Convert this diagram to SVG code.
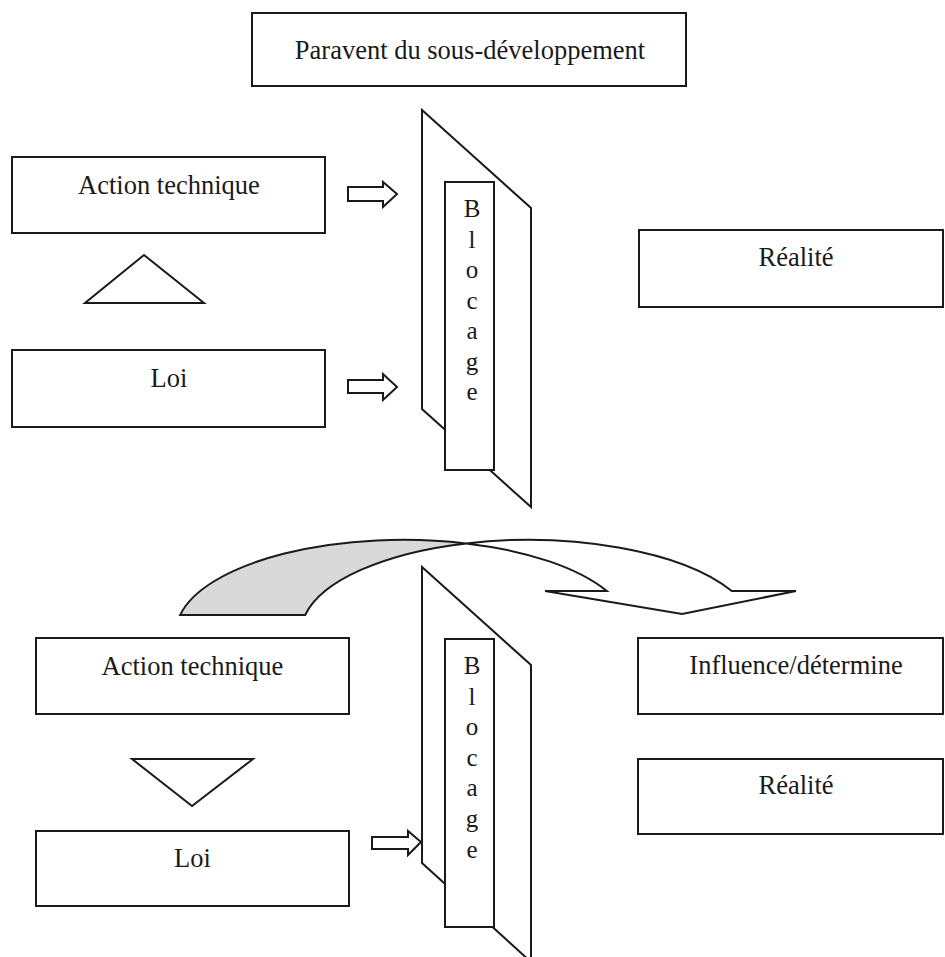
<svg xmlns="http://www.w3.org/2000/svg" width="945" height="957" viewBox="0 0 945 957">
<style>
.box{fill:#fff;stroke:#1a1a1a;stroke-width:2}
.ln{fill:#fff;stroke:#1a1a1a;stroke-width:2;stroke-linejoin:miter}
.t{font-family:"Liberation Serif","Times New Roman",serif;font-size:26.5px;fill:#1a1a1a;text-anchor:middle}
.v{font-family:"Liberation Serif","Times New Roman",serif;font-size:25px;fill:#1a1a1a;text-anchor:middle}
</style>
<rect width="945" height="957" fill="#fff"/>
<g id="title">
<rect class="box" x="252" y="13" width="434" height="73"/>
<text class="t" x="470" y="59">Paravent du sous-développement</text>
</g>
<g id="action-top">
<rect class="box" x="12" y="157" width="313" height="76"/>
<text class="t" x="169" y="194">Action technique</text>
</g>
<g id="loi-top">
<rect class="box" x="12" y="350" width="313" height="77"/>
<text class="t" x="169" y="387">Loi</text>
</g>
<g id="realite-top">
<rect class="box" x="639" y="230" width="304" height="77"/>
<text class="t" x="796" y="266">Réalité</text>
</g>
<g id="blocage-top">
<polygon class="ln" points="422,110 531,208 531,507 422,409"/>
<rect class="box" x="445" y="182" width="49" height="288"/>
<text class="v" x="472" y="217">B</text>
<text class="v" x="472" y="247.5">l</text>
<text class="v" x="472" y="278">o</text>
<text class="v" x="472" y="308.5">c</text>
<text class="v" x="472" y="339">a</text>
<text class="v" x="472" y="369.5">g</text>
<text class="v" x="472" y="400">e</text>
</g>
<g id="action-bottom">
<rect class="box" x="36" y="638" width="313" height="76"/>
<text class="t" x="192.5" y="675">Action technique</text>
</g>
<g id="loi-bottom">
<rect class="box" x="36" y="831" width="313" height="75"/>
<text class="t" x="192.5" y="867">Loi</text>
</g>
<g id="influence">
<rect class="box" x="638" y="638" width="305" height="76"/>
<text class="t" x="796" y="674">Influence/détermine</text>
</g>
<g id="realite-bottom">
<rect class="box" x="638" y="759" width="305" height="75"/>
<text class="t" x="796" y="794">Réalité</text>
</g>
<g id="blocage-bottom">
<polygon class="ln" points="422,567 531,665 531,962 422,863"/>
<rect class="box" x="445" y="639" width="49" height="288"/>
<text class="v" x="472" y="674">B</text>
<text class="v" x="472" y="704.6">l</text>
<text class="v" x="472" y="735.2">o</text>
<text class="v" x="472" y="765.8">c</text>
<text class="v" x="472" y="796.4">a</text>
<text class="v" x="472" y="827">g</text>
<text class="v" x="472" y="857.6">e</text>
</g>
<g id="connectors">
<polygon class="ln" points="348,187 383,187 383,182 397,194 383,207 383,201 348,201"/>
<polygon class="ln" points="348,380 383,380 383,374 397,387 383,400 383,393 348,393"/>
<polygon class="ln" points="372,837 408,837 408,831 421,842 408,855 408,849 372,849"/>
<polygon class="ln" points="144,255 204,303 85,303"/>
<polygon class="ln" points="132,759 253,759 192,806"/>
<path d="M180.2,615 A227.4,92.75 0 0 1 466,543.4 A227.4,92.75 0 0 0 305.2,615 Z" fill="#d9d9d9" stroke="#1a1a1a" stroke-width="2"/>
<path class="ln" d="M466,543.4 A227.4,92.75 0 0 1 731.8,591 L796,591 L682,614 L545,591 L606.8,591 A227.4,92.75 0 0 0 466,543.4 Z"/>
</g>
</svg>
